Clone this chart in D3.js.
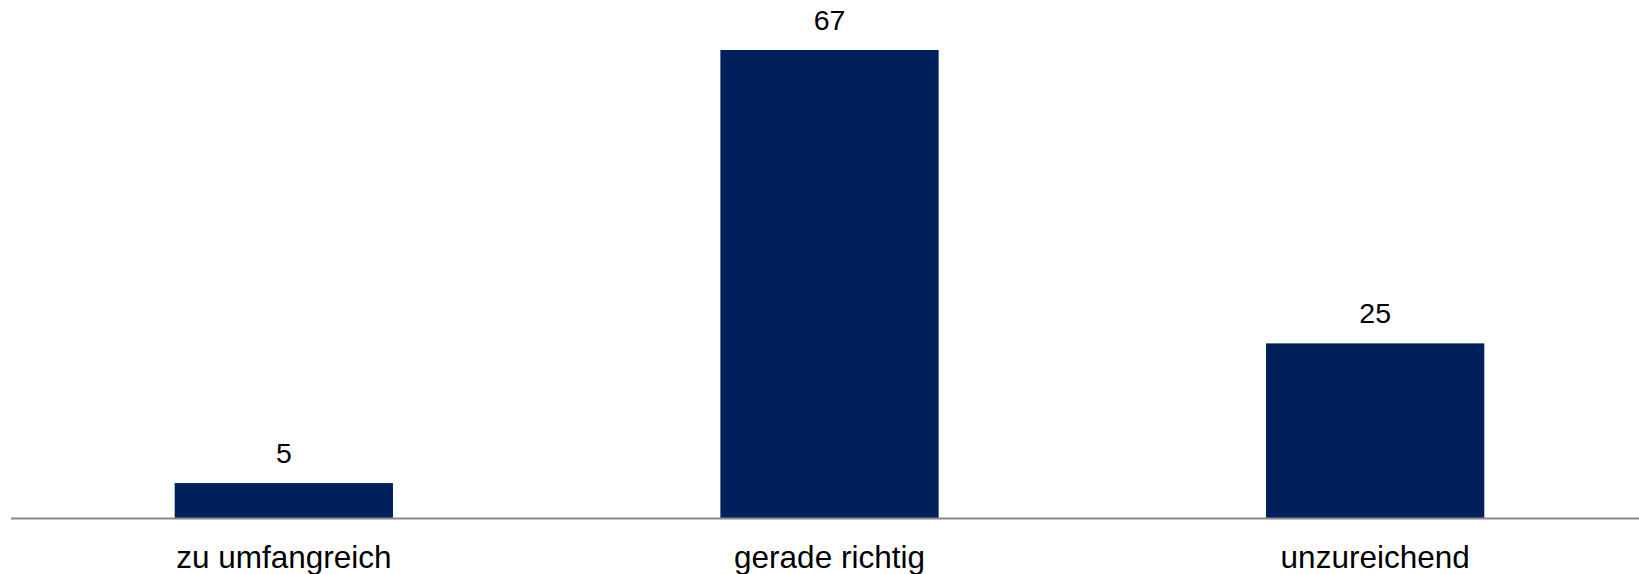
<!DOCTYPE html>
<html>
<head>
<meta charset="utf-8">
<script src="https://cdn.jsdelivr.net/npm/d3@7"></script>
<style>
  body { margin: 0; background: #fff; }
  svg text { font-family: "Liberation Sans", Arial, sans-serif; fill: #000; }
</style>
</head>
<body>
<div id="chart"></div>
<script>
const categories = ["zu umfangreich", "gerade richtig", "unzureichend"];
const values = [5, 67, 25];

const width = 1639, height = 574;
const baseY = 518, unit = 6.985; // px per percent point

const svg = d3.select("#chart")
  .append("svg")
  .attr("width", width)
  .attr("height", height);

const x = d3.scaleBand()
  .domain(categories)
  .range([11, 1648])
  .paddingInner(0.6)
  .paddingOuter(0.3);

const y = d3.scaleLinear()
  .domain([0, 67])
  .range([baseY, baseY - 67 * unit]);

svg.selectAll("rect.bar")
  .data(values)
  .enter()
  .append("rect")
  .attr("class", "bar")
  .attr("x", (d, i) => x(categories[i]))
  .attr("width", x.bandwidth())
  .attr("y", d => y(d))
  .attr("height", d => y(0) - y(d))
  .attr("fill", "#00205c");

// baseline
svg.append("line")
  .attr("x1", 11)
  .attr("x2", width)
  .attr("y1", y(0) + 0.5)
  .attr("y2", y(0) + 0.5)
  .attr("stroke", "#888")
  .attr("stroke-width", 2);

// value labels
svg.selectAll("text.value")
  .data(values)
  .enter()
  .append("text")
  .attr("class", "value")
  .attr("x", (d, i) => x(categories[i]) + x.bandwidth() / 2)
  .attr("y", d => y(d) - 20)
  .attr("text-anchor", "middle")
  .style("font-size", "28.5px")
  .text(d => d);

// category labels
svg.selectAll("text.cat")
  .data(categories)
  .enter()
  .append("text")
  .attr("class", "cat")
  .attr("x", d => x(d) + x.bandwidth() / 2)
  .attr("y", y(0) + 50)
  .attr("text-anchor", "middle")
  .style("font-size", "31.5px")
  .text(d => d);
</script>
</body>
</html>
